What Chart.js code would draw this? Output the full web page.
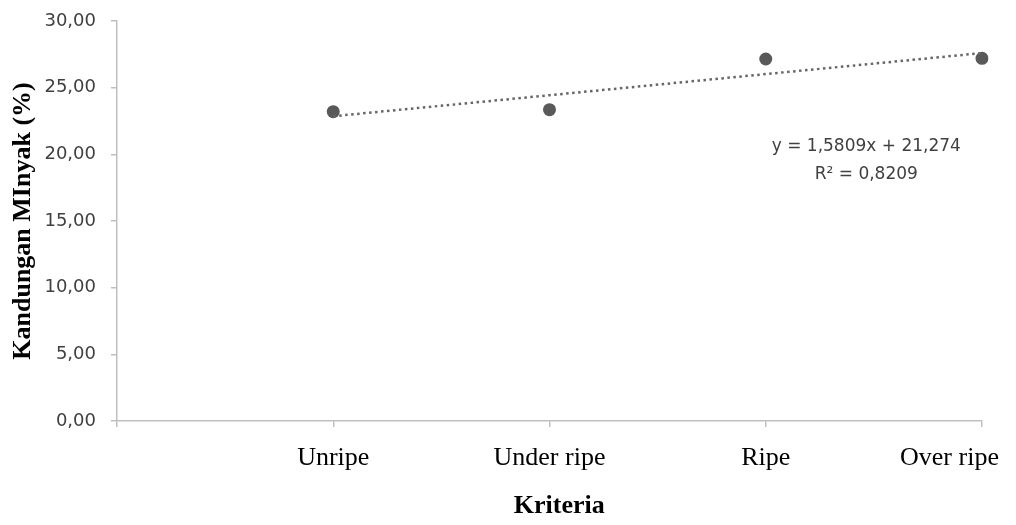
<!DOCTYPE html>
<html lang="en">
<head>
<meta charset="UTF-8">
<title>Kandungan Minyak</title>
<script src="https://cdn.jsdelivr.net/npm/chart.js"></script>
<style>
    body { margin: 0; background: #fff; }
    #wrap { width: 1016px; height: 525px; position: relative; }
</style>
</head>
<body>
<div id="wrap"><canvas id="myChart"></canvas></div>

<script>
    // data
    const kriteria = ['', 'Unripe', 'Under ripe', 'Ripe', 'Over ripe'];
    const minyak = [null, 23.2, 23.35, 27.15, 27.2];
    const yTicks = [0, 5, 10, 15, 20, 25, 30];

    // linear trendline printed on the chart
    const slope = 1.5809;
    const intercept = 21.274;
    const eqLines = ['y = 1,5809x + 21,274', 'R\u00b2 = 0,8209'];

    const trend = kriteria.map((k, i) => i === 0 ? null : slope * i + intercept);

    const comma = v => v.toFixed(2).replace('.', ',');
    const nb = n => '\u00a0'.repeat(n);

    // draws the equation text next to the trendline
    const eqLabel = {
        id: 'eqLabel',
        afterDatasetsDraw(chart) {
            const { ctx, scales: { x, y } } = chart;
            ctx.save();
            ctx.font = '17px "DejaVu Sans"';
            ctx.fillStyle = '#404040';
            ctx.textAlign = 'center';
            ctx.textBaseline = 'middle';
            const cx = x.getPixelForValue(3.465);
            ctx.fillText(eqLines[0], cx, y.getPixelForValue(20.55));
            ctx.fillText(eqLines[1], cx, y.getPixelForValue(18.45));
            ctx.restore();
        }
    };

    let ctx = document.getElementById('myChart').getContext('2d');
    let myChart = new Chart(ctx, {
        type: 'line',
        data: {
            labels: kriteria,
            datasets: [
                {
                    label: 'Trend',
                    data: trend,
                    borderColor: '#666666',
                    borderWidth: 2.5,
                    borderDash: [2.5, 3.5],
                    pointRadius: 0,
                    fill: false,
                    spanGaps: true
                },
                {
                    label: 'Kandungan Minyak',
                    data: minyak,
                    showLine: false,
                    pointRadius: 6.5,
                    pointHoverRadius: 6.5,
                    pointBackgroundColor: '#595959',
                    pointBorderWidth: 0
                }
            ]
        },
        options: {
            responsive: true,
            maintainAspectRatio: false,
            animation: false,
            layout: { padding: { top: 21, right: 34, bottom: 0, left: 0 } },
            plugins: {
                legend: { display: false },
                tooltip: { enabled: false }
            },
            scales: {
                x: {
                    offset: false,
                    afterFit: s => { s.height = 104; s.paddingLeft = 0; s.paddingRight = 0; },
                    border: { color: '#bfbfbf', width: 1.5 },
                    grid: { drawOnChartArea: false, drawTicks: true, tickLength: 6, color: '#bfbfbf', lineWidth: 1.5 },
                    ticks: {
                        padding: 16,
                        maxRotation: 0,
                        autoSkip: false,
                        color: '#000',
                        font: { family: '"Liberation Serif"', size: 26 },
                        // last label is pulled in so it stays inside the page
                        callback: (v, i) => i === kriteria.length - 1 ? kriteria[i] + nb(10) : kriteria[i]
                    },
                    title: {
                        display: true,
                        text: nb(3) + 'Kriteria',
                        color: '#000',
                        padding: { top: 0, bottom: 3 },
                        font: { family: '"Liberation Serif"', size: 26, weight: 'bold' }
                    }
                },
                y: {
                    min: 0,
                    max: 30,
                    afterFit: s => { s.width = 117; s.paddingTop = 0; s.paddingBottom = 0; },
                    afterBuildTicks: s => { s.ticks = yTicks.map(v => ({ value: v })); },
                    border: { color: '#bfbfbf', width: 1.5 },
                    grid: { drawOnChartArea: false, drawTicks: true, tickLength: 6, color: '#bfbfbf', lineWidth: 1.5 },
                    ticks: {
                        padding: 15,
                        color: '#404040',
                        font: { family: '"DejaVu Sans"', size: 18 },
                        callback: v => comma(v)
                    },
                    title: {
                        display: true,
                        text: 'Kandungan MInyak (%)',
                        color: '#000',
                        padding: { top: 8, bottom: 0 },
                        font: { family: '"Liberation Serif"', size: 26, weight: 'bold' }
                    }
                }
            }
        },
        plugins: [eqLabel]
    });
</script>
</body>
</html>
